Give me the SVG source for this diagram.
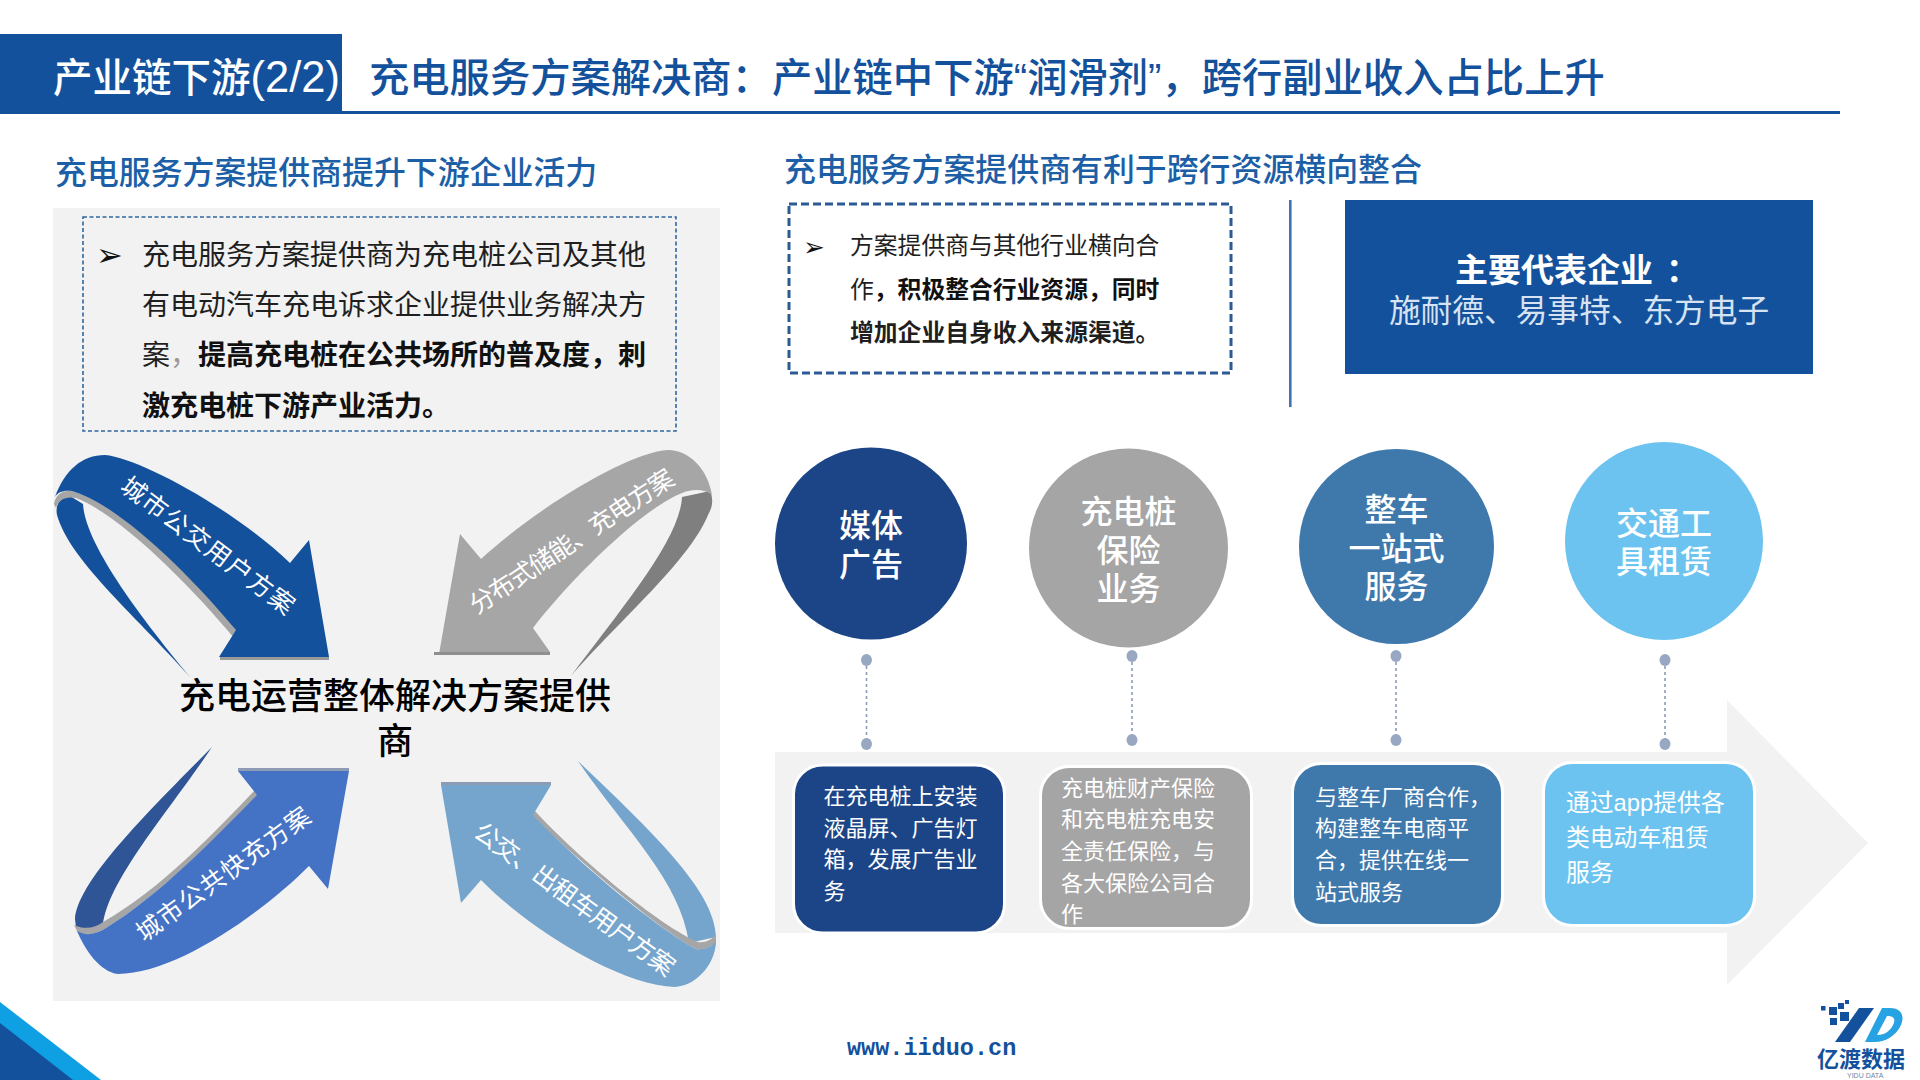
<svg xmlns="http://www.w3.org/2000/svg" width="1920" height="1080" viewBox="0 0 1920 1080">
<style>
text{font-family:"Liberation Sans","Noto Sans CJK SC",sans-serif}
.blue{fill:#14519c}
.w{fill:#fff}
.body{font-size:28px;fill:#1f1f1f}
.bb{font-weight:700;fill:#111}
.sm{font-size:23.8px;fill:#1f1f1f}
.sub{font-size:31.9px;font-weight:500;fill:#1c5fa6}
.circ{font-size:32px;fill:#fff;text-anchor:middle;font-weight:500}
.card{font-size:22px;fill:#fff}
.arr{font-size:25px;fill:#fff;text-anchor:middle}
.cardbox{stroke:#fff;stroke-width:3}
.dot{fill:#98a8c2}
.conn{stroke:#8c9db8;stroke-width:1.6;stroke-dasharray:3 3;fill:none}
</style>
<rect width="1920" height="1080" fill="#fff"/>

<g id="corner">
<polygon points="0,1002 101,1080 0,1080" fill="#0f9fe3"/>
<polygon points="0,1023 73,1080 0,1080" fill="#14519c"/>
</g>

<g id="header">
<rect x="342" y="111" width="1498" height="3" fill="#14519c"/>
<rect x="0" y="34" width="342" height="80" fill="#14519c"/>
<text x="53" y="92" font-size="39.5" font-weight="500" class="w">产业链下游<tspan font-size="43.5">(2/2)</tspan></text>
<text x="369" y="92" font-size="40.3" font-weight="500" class="blue">充电服务方案解决商：产业链中下游“润滑剂”，跨行副业收入占比上升</text>
</g>

<text class="sub" x="55" y="184">充电服务方案提供商提升下游企业活力</text>
<text class="sub" x="784" y="181">充电服务方案提供商有利于跨行资源横向整合</text>

<rect id="left-panel" x="53" y="208" width="667" height="793" fill="#f2f2f2"/>

<g id="left-note">
<rect x="83" y="217" width="593" height="214" fill="none" stroke="#2f659f" stroke-width="1.6" stroke-dasharray="4 2.5"/>
<text x="96" y="266" font-size="32" fill="#111" style="font-family:'DejaVu Sans',sans-serif">➢</text>
<text class="body" x="142" y="265">充电服务方案提供商为充电桩公司及其他</text>
<text class="body" x="142" y="315">有电动汽车充电诉求企业提供业务解决方</text>
<text class="body" x="142" y="365">案<tspan fill="#999">，</tspan></text>
<text class="body bb" x="198" y="365">提高充电桩在公共场所的普及度，刺</text>
<text class="body bb" x="142" y="416">激充电桩下游产业活力。</text>
</g>

<g id="arrow-bus">
<path d="M57,515C70,560 130,610 191,678C130,605 85,540 83,504L70,496C60,497 55,505 57,515Z" fill="#14519c"/>
<path d="M54,504C56,494 63,490 72,491C120,505 195,575 237,630L234,638C190,585 120,515 76,498C66,496 58,500 56,508Z" fill="#a6a6a6"/>
<path d="M55,497C65,470 82,455 105,455C140,458 235,510 290,563L309,540L329,657L219,657L236,630C190,575 120,505 72,491C63,490 58,492 55,497Z" fill="#14519c"/>
<rect x="220" y="657" width="109" height="3" fill="#9a9a9a"/>
<text class="arr" transform="translate(203,553) rotate(37)" letter-spacing="1.4" font-size="28">城市公交用户方案</text>
</g>

<g id="arrow-storage">
<path d="M710,491C714,500 712,508 708,515C690,560 620,620 571,676C620,610 680,540 682,497Z" fill="#7f7f7f"/>
<path d="M712,495C708,470 690,450 668,450C630,452 540,505 481,559L460,534L439,654L550,652L533,628C570,580 640,510 682,493C695,488 705,490 712,495Z" fill="#a6a6a6"/>
<rect x="434" y="652" width="116" height="3" fill="#8f8f8f"/>
<text class="arr" transform="translate(576,549) rotate(-33.5)" letter-spacing="-1.2" font-size="24.500">分布式储能、充电方案</text>
</g>

<g id="arrow-fast">
<path d="M212,747C150,810 78,880 75,919L76,928C85,930 95,930 103,925C108,880 170,810 212,747Z" fill="#2f5597"/>
<path d="M74,925C85,930 95,928 103,922C160,890 215,832 255,790L260,796C215,838 160,895 106,928C95,935 85,936 78,933Z" fill="#a6a6a6"/>
<path d="M238,771L349,771L328,889L309,866C260,915 175,974 118,974C100,972 85,950 77,931C85,936 95,935 106,928C160,895 215,838 257,795Z" fill="#4472c4"/>
<rect x="238" y="768" width="111" height="3" fill="#8e9bb5"/>
<text class="arr" transform="translate(229,881) rotate(-36)" letter-spacing="1.2" font-size="29">城市公共快充方案</text>
</g>

<g id="arrow-taxi">
<path d="M578,761C650,830 715,890 716,937L689,943C680,880 625,830 578,761Z" fill="#75a5cd"/>
<path d="M533,809C580,860 660,926 698,942C705,943 712,940 716,934L716,942C710,948 703,950 696,949C660,930 580,862 531,815Z" fill="#a6a6a6"/>
<path d="M441,785L551,785L533,815C580,865 660,930 696,949C703,950 712,947 716,941C716,960 700,985 675,987C620,985 530,930 481,880L461,903Z" fill="#75a5cd"/>
<rect x="441" y="782" width="110" height="3" fill="#8e9bb5"/>
<text class="arr" transform="translate(569,906) rotate(36)" letter-spacing="-1" font-size="24">公交、出租车用户方案</text>
</g>

<g id="center-label" font-size="36" font-weight="500" fill="#000" text-anchor="middle">
<text x="395" y="709">充电运营整体解决方案提供</text>
<text x="395" y="754">商</text>
</g>

<g id="right-note">
<rect x="789" y="204" width="442" height="169" fill="none" stroke="#2b5a94" stroke-width="3" stroke-dasharray="8 4"/>
<text x="803" y="256" font-size="26" fill="#111" style="font-family:'DejaVu Sans',sans-serif">➢</text>
<text class="sm" x="850" y="254">方案提供商与其他行业横向合</text>
<text class="sm" x="850" y="297.500">作<tspan class="bb">，积极整合行业资源，同时</tspan></text>
<text class="sm bb" x="850" y="341">增加企业自身收入来源渠道。</text>
</g>

<rect id="divider" x="1289" y="200" width="2.6" height="207" fill="#4472b4"/>

<g id="companies">
<rect x="1345" y="200" width="468" height="174" fill="#14519c"/>
<text x="1455" y="282" font-size="33" font-weight="700" fill="#fff">主要代表企业<tspan dx="13">：</tspan></text>
<text x="1579" y="322" font-size="31.7" fill="#d5e3f2" text-anchor="middle">施耐德、易事特、东方电子</text>
</g>

<g id="big-arrow">
<polygon points="775,752 1727,752 1727,700 1868,843 1727,985 1727,933 775,933" fill="#f2f2f2"/>
</g>

<g id="connectors">
<line class="conn" x1="866.500" y1="660" x2="866.500" y2="744"/>
<line class="conn" x1="1132" y1="656" x2="1132" y2="740"/>
<line class="conn" x1="1396" y1="656" x2="1396" y2="740"/>
<line class="conn" x1="1665" y1="660" x2="1665" y2="744"/>
<ellipse class="dot" cx="866.500" cy="660" rx="5.500" ry="6"/>
<ellipse class="dot" cx="866.500" cy="744" rx="5.500" ry="6"/>
<ellipse class="dot" cx="1132" cy="656" rx="5.500" ry="6"/>
<ellipse class="dot" cx="1132" cy="740" rx="5.500" ry="6"/>
<ellipse class="dot" cx="1396" cy="656" rx="5.500" ry="6"/>
<ellipse class="dot" cx="1396" cy="740" rx="5.500" ry="6"/>
<ellipse class="dot" cx="1665" cy="660" rx="5.500" ry="6"/>
<ellipse class="dot" cx="1665" cy="744" rx="5.500" ry="6"/>
</g>

<g id="node-media">
<circle cx="871" cy="543.500" r="96" fill="#1c4587"/>
<text class="circ" x="871" y="536.500">媒体</text>
<text class="circ" x="871" y="575.500">广告</text>
</g>
<g id="node-insurance">
<circle cx="1128.500" cy="548" r="99.500" fill="#a5a5a5"/>
<text class="circ" x="1128.500" y="522.500">充电桩</text>
<text class="circ" x="1128.500" y="561.500">保险</text>
<text class="circ" x="1128.500" y="599.500">业务</text>
</g>
<g id="node-vehicle">
<circle cx="1396.500" cy="546.500" r="97.500" fill="#3f79ac"/>
<text class="circ" x="1396.500" y="521">整车</text>
<text class="circ" x="1396.500" y="560">一站式</text>
<text class="circ" x="1396.500" y="598">服务</text>
</g>
<g id="node-rental">
<circle cx="1664" cy="541" r="99" fill="#6cc3f0"/>
<text class="circ" x="1664" y="535">交通工</text>
<text class="circ" x="1664" y="573">具租赁</text>
</g>

<g id="card-media">
<rect class="cardbox" x="793.500" y="765" width="211" height="168" rx="29" fill="#1c4587"/>
<text class="card" x="823.500" y="804">在充电桩上安装</text>
<text class="card" x="823.500" y="836">液晶屏、广告灯</text>
<text class="card" x="823.500" y="867">箱，发展广告业</text>
<text class="card" x="823.500" y="899">务</text>
</g>
<g id="card-insurance">
<rect class="cardbox" x="1040.500" y="766.500" width="211" height="162" rx="29" fill="#a5a5a5"/>
<text class="card" x="1061" y="796">充电桩财产保险</text>
<text class="card" x="1061" y="827">和充电桩充电安</text>
<text class="card" x="1061" y="859">全责任保险，与</text>
<text class="card" x="1061" y="891">各大保险公司合</text>
<text class="card" x="1061" y="922">作</text>
</g>
<g id="card-vehicle">
<rect class="cardbox" x="1292.500" y="763.500" width="210" height="162" rx="29" fill="#3f79ac"/>
<text class="card" x="1315" y="805">与整车厂商合作，</text>
<text class="card" x="1315" y="836">构建整车电商平</text>
<text class="card" x="1315" y="868">合，提供在线一</text>
<text class="card" x="1315" y="900">站式服务</text>
</g>
<g id="card-rental">
<rect class="cardbox" x="1543.500" y="762.500" width="211" height="163" rx="29" fill="#6cc3f0"/>
<text class="card" x="1566" y="811" style="font-size:23.8px">通过app提供各</text>
<text class="card" x="1566" y="846" style="font-size:23.8px">类电动车租赁</text>
<text class="card" x="1566" y="881" style="font-size:23.8px">服务</text>
</g>

<text x="847" y="1055" font-size="23.5" font-weight="700" fill="#14519c" style="font-family:'Liberation Mono',monospace">www.iiduo.cn</text>

<g id="logo">
<g fill="#14519c">
<rect x="1821" y="1006" width="4.500" height="4.500"/>
<rect x="1829" y="1007" width="8" height="8"/>
<rect x="1838" y="1003" width="6" height="6"/>
<rect x="1845" y="1000" width="4" height="4"/>
<rect x="1830" y="1018" width="7" height="7"/>
<rect x="1840" y="1012" width="9" height="9"/>
<polygon points="1835,1042 1850,1042 1874,1008 1859,1008"/>
</g>
<path d="M1865,1042L1882,1008L1890,1008C1903,1008 1905,1018 1900,1027C1895,1036 1885,1042 1875,1042ZM1877,1035C1885,1035 1890,1031 1893,1025C1896,1019 1894,1016 1887,1016Z" fill="#27a3e3" fill-rule="evenodd"/>
<text x="1817" y="1067" font-size="22" font-weight="700" fill="#14519c">亿渡数据</text>
<text x="1847" y="1078" font-size="7" fill="#6f86a6">YIDU DATA</text>
</g>
</svg>
